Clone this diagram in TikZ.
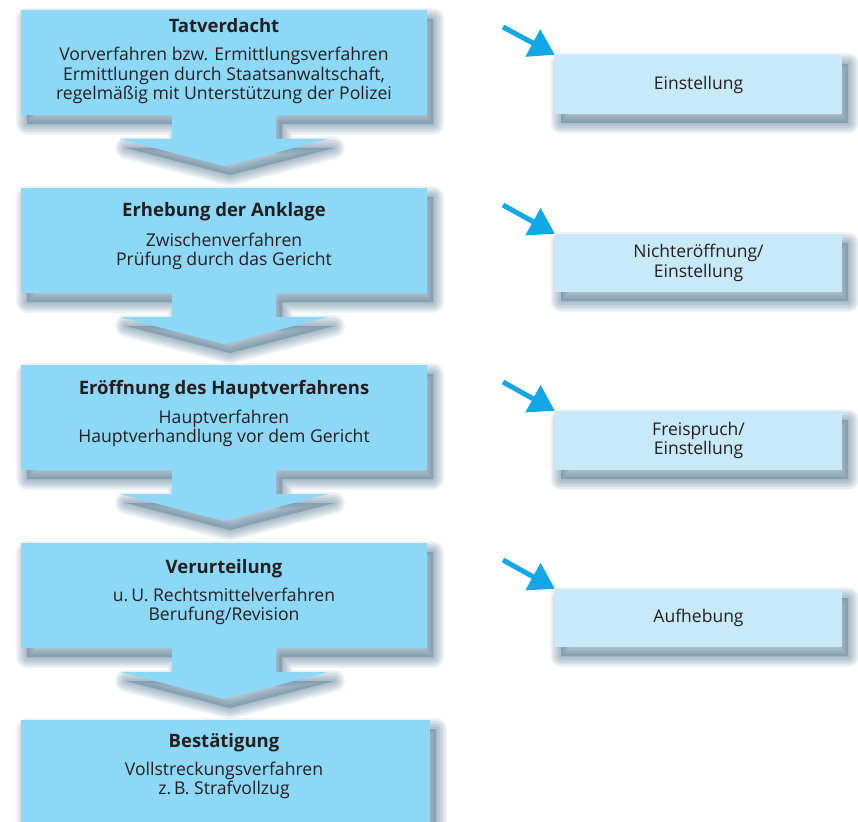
\documentclass[tikz,border=0pt]{standalone}
\usepackage{fontspec}
\setmainfont{Open Sans}
\usetikzlibrary{arrows.meta}
\definecolor{lboxc}{HTML}{8ED8F7}
\definecolor{rboxc}{HTML}{C7E9F9}
\definecolor{shad}{HTML}{2C5A78}
\definecolor{arrc}{HTML}{12A8E8}
\definecolor{txtc}{HTML}{231F20}
\tikzset{
  titletext/.style={anchor=base, inner sep=0pt, text=txtc, font=\fontsize{18.5}{23}\selectfont\bfseries},
  bodytext/.style={anchor=base, inner sep=0pt, text=txtc, font=\fontsize{17.6}{19.5}\selectfont},
  sidebox/.style={fill=rboxc, minimum width=287pt, minimum height=59pt, inner sep=0pt, align=center, text=txtc, font=\fontsize{17.5}{19.5}\selectfont},
  pointer/.style={arrc, line width=5pt, -{Triangle[width=30pt,length=25pt]}},
}
\newcommand\lshapepath[1]{(21,#1) -- (427,#1) -- (427,#1+105) -- (276,#1+105) -- (276,#1+129) -- (328,#1+129) -- (224,#1+156) -- (120,#1+129) -- (172,#1+129) -- (172,#1+105) -- (21,#1+105) -- cycle}
\newcommand\softshadow[1]{%
  \begin{scope}[shift={(6,9)}]
    \foreach \w in {22,19,16,13,10,7,4,1}{%
      \draw[shad, opacity=0.065, line width=\w pt, line join=round] #1;}
    \fill[shad, opacity=0.3] #1;
  \end{scope}}
\newcommand\leftshape[1]{%
  \softshadow{\lshapepath{#1}}
  \fill[lboxc] \lshapepath{#1};}
\newcommand\bodylines[1]{\begin{tabular}[t]{@{}c@{}}#1\end{tabular}}
\begin{document}
\begin{tikzpicture}[x=1pt, y=-1pt]
\useasboundingbox (0,0) rectangle (858,821);
% left step shapes
\leftshape{10}
\leftshape{188}
\leftshape{365}
\leftshape{543}
\softshadow{(21,720) -- (430,720) -- (430,840) -- (21,840) -- cycle}
\fill[lboxc] (21,720) rectangle (430,840);
% texts
\node[titletext] (t1) at (224,32.7) {Tatverdacht};
\node[bodytext] (b1) at (224,61) {\bodylines{Vorverfahren bzw. Ermittlungsverfahren\\Ermittlungen durch Staatsanwaltschaft,\\regelmäßig mit Unterstützung der Polizei}};
\node[titletext] (t2) at (224,216.7) {Erhebung der Anklage};
\node[bodytext] (b2) at (224,246) {\bodylines{Zwischenverfahren\\Prüfung durch das Gericht}};
\node[titletext] (t3) at (224,394) {Eröffnung des Hauptverfahrens};
\node[bodytext] (b3) at (224,423) {\bodylines{Hauptverfahren\\Hauptverhandlung vor dem Gericht}};
\node[titletext] (t4) at (224,573) {Verurteilung};
\node[bodytext] (b4) at (224,601) {\bodylines{u.\,U. Rechtsmittelverfahren\\Berufung/Revision}};
\node[titletext] (t5) at (224,747) {Bestätigung};
\node[bodytext] (b5) at (224,775) {\bodylines{Vollstreckungsverfahren\\z.\,B. Strafvollzug}};
% right boxes
\softshadow{(555,55) rectangle (842,114)}
\node[sidebox] (r1) at (698.5,84.5) {Einstellung};
\softshadow{(555,234) rectangle (842,292)}
\node[sidebox, minimum height=58pt] (r2) at (698.5,263) {Nichteröffnung/\\Einstellung};
\softshadow{(555,411) rectangle (842,470)}
\node[sidebox] (r3) at (698.5,440.5) {Freispruch/\\Einstellung};
\softshadow{(555,589) rectangle (842,647)}
\node[sidebox, minimum height=58pt] (r4) at (698.5,618) {Aufhebung};
% pointers
\coordinate (p1) at (503,27);
\coordinate (p2) at (503,205);
\coordinate (p3) at (503,382);
\coordinate (p4) at (503,560);
\draw[pointer] (p1) -- (r1.north west);
\draw[pointer] (p2) -- (r2.north west);
\draw[pointer] (p3) -- (r3.north west);
\draw[pointer] (p4) -- (r4.north west);
\end{tikzpicture}
\end{document}
